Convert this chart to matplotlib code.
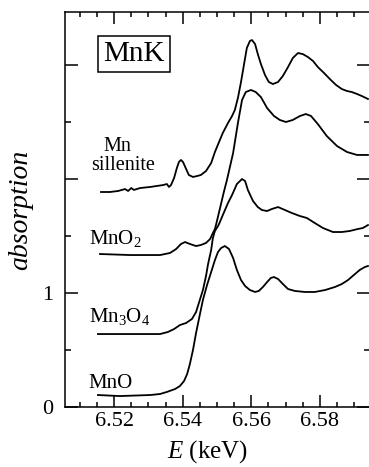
"""Mn K-edge XANES: Mn sillenite vs MnO2, Mn3O4, MnO reference spectra."""
import matplotlib
matplotlib.use("Agg")
import matplotlib.pyplot as plt
from matplotlib.ticker import MultipleLocator, FixedLocator

plt.rcParams.update({
    "font.family": ["Liberation Serif", "DejaVu Serif"],
    "mathtext.fontset": "custom",
    "mathtext.rm": "Liberation Serif",
    "mathtext.it": "Liberation Serif:italic",
    "axes.linewidth": 1.1,
})

# --- spectra (energy in keV, absorption offset as plotted) ---
sill_E = [6.5162, 6.5188, 6.5212, 6.5232, 6.5241, 6.5250, 6.5258, 6.5276, 6.5305,
          6.5325, 6.5343, 6.5354, 6.5360, 6.5366, 6.5375, 6.5383, 6.5389, 6.5395,
          6.5401, 6.5410, 6.5418, 6.5430, 6.5442, 6.5453, 6.5468, 6.5483, 6.5494,
          6.5506, 6.5517, 6.5532, 6.5544, 6.5552, 6.5561, 6.5570, 6.5579, 6.5587,
          6.5596, 6.5602, 6.5611, 6.5619, 6.5628, 6.5640, 6.5651, 6.5663, 6.5678,
          6.5692, 6.5707, 6.5721, 6.5736, 6.5750, 6.5765, 6.5780, 6.5794, 6.5812,
          6.5829, 6.5847, 6.5864, 6.5879, 6.5893, 6.5908, 6.5922, 6.5940]
sill_A = [1.886, 1.886, 1.895, 1.912, 1.895, 1.921, 1.904, 1.921, 1.930,
          1.939, 1.947, 1.956, 1.930, 1.947, 2.009, 2.096, 2.149, 2.167,
          2.149, 2.088, 2.035, 2.018, 2.026, 2.035, 2.070, 2.140, 2.237,
          2.325, 2.404, 2.491, 2.553, 2.605, 2.711, 2.851, 3.009, 3.149,
          3.211, 3.219, 3.184, 3.096, 3.009, 2.912, 2.851, 2.833, 2.851,
          2.904, 2.982, 3.061, 3.105, 3.096, 3.070, 3.035, 2.982, 2.930,
          2.877, 2.825, 2.789, 2.772, 2.763, 2.746, 2.728, 2.702]

mno2_E = [6.5159, 6.5247, 6.5334, 6.5363, 6.5381, 6.5395, 6.5407, 6.5421, 6.5439,
          6.5453, 6.5468, 6.5480, 6.5488, 6.5494, 6.5497, 6.5509, 6.5520, 6.5529,
          6.5547, 6.5561, 6.5573, 6.5584, 6.5599, 6.5613, 6.5628, 6.5646, 6.5666,
          6.5683, 6.5701, 6.5721, 6.5742, 6.5759, 6.5774, 6.5794, 6.5820, 6.5850,
          6.5879, 6.5908, 6.5940]
mno2_A = [1.342, 1.333, 1.333, 1.351, 1.386, 1.430, 1.447, 1.430, 1.412,
          1.421, 1.439, 1.474, 1.526, 1.561, 1.596, 1.746, 1.886, 1.991,
          2.228, 2.491, 2.693, 2.763, 2.781, 2.763, 2.719, 2.623, 2.553,
          2.518, 2.500, 2.518, 2.553, 2.570, 2.553, 2.482, 2.377, 2.289,
          2.237, 2.211, 2.211]

mn3o4_E = [6.5153, 6.5247, 6.5334, 6.5357, 6.5375, 6.5392, 6.5410, 6.5427, 6.5439,
           6.5450, 6.5459, 6.5468, 6.5474, 6.5483, 6.5488, 6.5494, 6.5503, 6.5506,
           6.5517, 6.5532, 6.5544, 6.5558, 6.5573, 6.5582, 6.5590, 6.5605, 6.5619,
           6.5631, 6.5646, 6.5660, 6.5678, 6.5698, 6.5718, 6.5742, 6.5762, 6.5785,
           6.5809, 6.5838, 6.5864, 6.5887, 6.5910, 6.5925, 6.5940]
mn3o4_A = [0.640, 0.640, 0.640, 0.658, 0.684, 0.719, 0.737, 0.772, 0.833,
           0.939, 1.026, 1.149, 1.254, 1.377, 1.482, 1.544, 1.588, 1.605,
           1.684, 1.789, 1.860, 1.956, 2.000, 1.982, 1.904, 1.807, 1.754,
           1.728, 1.719, 1.737, 1.754, 1.728, 1.702, 1.675, 1.658, 1.614,
           1.570, 1.535, 1.535, 1.544, 1.561, 1.570, 1.596]

mno_E = [6.5153, 6.5217, 6.5305, 6.5334, 6.5354, 6.5378, 6.5392, 6.5404, 6.5413,
         6.5421, 6.5430, 6.5439, 6.5448, 6.5459, 6.5471, 6.5483, 6.5494, 6.5503,
         6.5512, 6.5523, 6.5535, 6.5547, 6.5558, 6.5570, 6.5582, 6.5596, 6.5611,
         6.5622, 6.5634, 6.5646, 6.5657, 6.5666, 6.5678, 6.5692, 6.5707, 6.5727,
         6.5756, 6.5785, 6.5815, 6.5844, 6.5864, 6.5882, 6.5899, 6.5916, 6.5931,
         6.5940]
mno_A = [0.105, 0.096, 0.105, 0.114, 0.132, 0.158, 0.184, 0.228, 0.289,
         0.377, 0.500, 0.649, 0.781, 0.939, 1.070, 1.184, 1.289, 1.360,
         1.395, 1.412, 1.386, 1.307, 1.202, 1.114, 1.061, 1.026, 1.009,
         1.018, 1.053, 1.096, 1.132, 1.140, 1.123, 1.079, 1.035, 1.018,
         1.009, 1.009, 1.026, 1.053, 1.079, 1.114, 1.158, 1.202, 1.228,
         1.237]

x_major = [6.52, 6.54, 6.56, 6.58]
x_labels = ["6.52", "6.54", "6.56", "6.58"]
y_major = [0, 1, 2, 3]
y_labels = ["0", "1", "", ""]

W, H = 369, 467
fig = plt.figure(figsize=(W / 100, H / 100), dpi=100)
# right spine sits just outside the picture, as in the scan
ax = fig.add_axes([65 / W, (H - 407) / H, 305 / W, 395 / H])

for E, A in [(sill_E, sill_A), (mno2_E, mno2_A), (mn3o4_E, mn3o4_A), (mno_E, mno_A)]:
    ax.plot(E, A, color="black", lw=1.3, solid_joinstyle="round")

ax.set_xlim(6.5057, 6.5946)
ax.set_ylim(0, 3.465)

ax.xaxis.set_major_locator(FixedLocator(x_major))
ax.set_xticklabels(x_labels)
ax.xaxis.set_minor_locator(MultipleLocator(0.005))
ax.yaxis.set_major_locator(FixedLocator(y_major))
ax.set_yticklabels(y_labels)
ax.yaxis.set_minor_locator(MultipleLocator(0.5))

ax.tick_params(which="both", direction="in", top=True, right=True,
               width=1.1, labelsize=16, colors="black")
ax.tick_params(axis="x", which="major", length=8.5, pad=3.5)
ax.tick_params(axis="x", which="minor", length=3.6)
ax.tick_params(axis="y", which="major", length=9.4, pad=8.5)
ax.tick_params(axis="y", which="minor", length=4.3)

# curve labels
ax.text(6.5258, 3.096, "MnK", fontsize=21, ha="center", va="center",
        bbox=dict(boxstyle="square,pad=0.18", fc="white", ec="black", lw=1.1))
ax.text(6.5210, 2.250, "Mn", fontsize=14.5, ha="center", va="baseline")
ax.text(6.5225, 2.080, "sillenite", fontsize=14.5, ha="center", va="baseline")
ax.text(6.5128, 1.430, "MnO$_2$", fontsize=15, ha="left", va="baseline")
ax.text(6.5126, 0.746, "Mn$_3$O$_4$", fontsize=15, ha="left", va="baseline")
ax.text(6.5126, 0.167, "MnO", fontsize=15, ha="left", va="baseline")

fig.text(208 / W, (H - 458) / H, "$E$ (keV)", fontsize=18, ha="center", va="baseline")
fig.text(21 / W, (H - 210) / H, "absorption", fontsize=20, style="italic",
         rotation=90, ha="center", va="center")

fig.savefig("out.png", dpi=100, facecolor="white")
